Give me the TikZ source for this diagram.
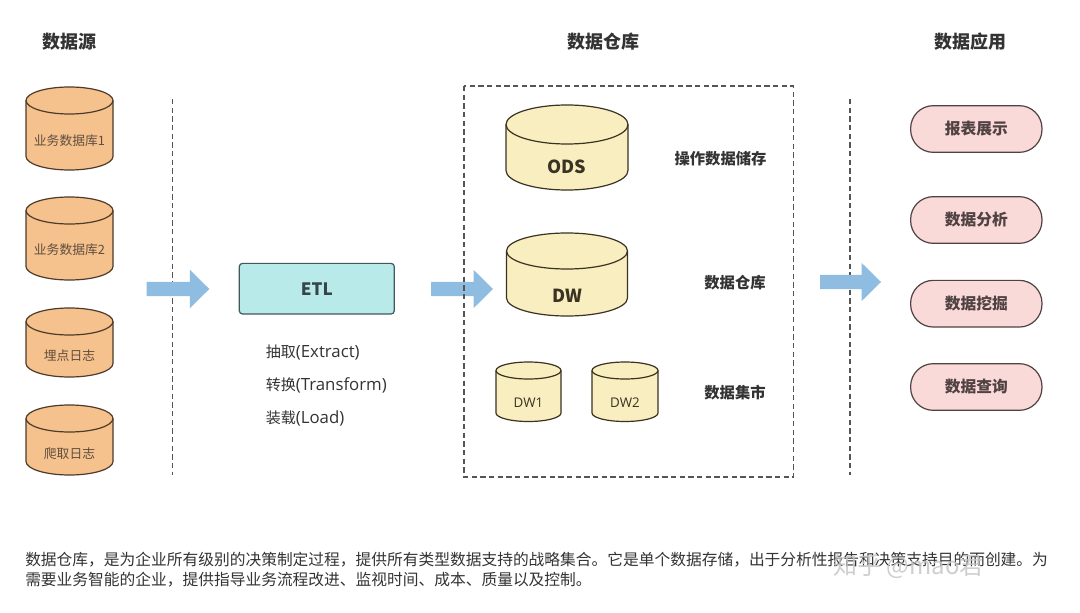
\documentclass[tikz,border=0pt]{standalone}
\usepackage{fontspec}
\setmainfont{Noto Sans CJK SC}
\newfontfamily\latinfont{Open Sans}
\usetikzlibrary{shapes.misc}
\definecolor{peach}{HTML}{F5C18D}
\definecolor{peachline}{HTML}{4D3A2A}
\definecolor{cream}{HTML}{F8EEC0}
\definecolor{creamline}{HTML}{3A3222}
\definecolor{etlfill}{HTML}{B8EAEA}
\definecolor{etlline}{HTML}{44585A}
\definecolor{pinkfill}{HTML}{F9DAD8}
\definecolor{pinkline}{HTML}{504242}
\definecolor{arrowblue}{HTML}{8FBDE2}
\definecolor{txt}{HTML}{333333}
\definecolor{dashc}{HTML}{555555}
% #1 cx, #2 top, #3 bottom, #4 half width, #5 ry, #6 style
\newcommand\dbcyl[6]{%
  \draw[#6] ({#1-#4},{-(#2+#5)}) -- ({#1-#4},{-(#3-#5)})
    arc[start angle=180,end angle=360,x radius=#4,y radius=#5]
    -- ({#1+#4},{-(#2+#5)})
    arc[start angle=0,end angle=180,x radius=#4,y radius=#5] -- cycle;
  \draw[#6,fill=none] ({#1-#4},{-(#2+#5)})
    arc[start angle=180,end angle=360,x radius=#4,y radius=#5];
}
% #1 x start, #2 x tip, #3 y center
\newcommand\blockarrow[3]{%
  \fill[arrowblue] (#1,{-#3+7.2}) -- ({#2-19.5},{-#3+7.2}) -- ({#2-19.5},{-#3+19.2})
    -- (#2,{-#3}) -- ({#2-19.5},{-#3-19.2}) -- ({#2-19.5},{-#3-7.2}) -- (#1,{-#3-7.2}) -- cycle;
}
\newcommand\lat[1]{{\latinfont\fontsize{12.6pt}{13pt}\selectfont #1}}
\begin{document}
\begin{tikzpicture}[x=0.75pt,y=0.75pt,
  title/.style={font=\fontsize{13.5pt}{16pt}\selectfont\bfseries, text=txt},
  srccyl/.style={fill=peach, draw=peachline, line width=0.9pt},
  dwcyl/.style={fill=cream, draw=creamline, line width=0.9pt},
  srclab/.style={font=\fontsize{9.6pt}{11pt}\selectfont, text=peachline!90},
  biglab/.style={font=\fontsize{13.5pt}{16pt}\selectfont\bfseries, text=creamline},
  smalllab/.style={font=\latinfont\fontsize{10pt}{11pt}\selectfont, text=creamline},
  sidelab/.style={font=\fontsize{11.5pt}{14pt}\selectfont\bfseries, text=txt},
  etlbox/.style={fill=etlfill, draw=etlline, line width=0.9pt, rounded corners=2.5pt,
    minimum width=116.3pt, minimum height=38pt, inner sep=0pt,
    font=\fontsize{12.8pt}{15pt}\selectfont\bfseries, text=etlline!80!black},
  etltxt/.style={font=\fontsize{11.3pt}{13pt}\selectfont, text=txt, anchor=west, inner sep=0pt},
  pill/.style={fill=pinkfill, draw=pinkline, line width=0.9pt, rounded corners=17pt,
    minimum width=98.5pt, minimum height=35pt, inner sep=0pt,
    font=\fontsize{11.8pt}{14pt}\selectfont\bfseries, text=pinkline},
  divider/.style={draw=dashc, line width=0.8pt, dash pattern=on 4pt off 2.5pt},
  note/.style={font=\fontsize{11.8pt}{14pt}\selectfont, text=txt, anchor=west, inner sep=0pt}
]
\useasboundingbox[fill=white] (0,0) rectangle (1080,-613);

% titles
\node[title] (t1) at (69.5,-42) {数据源};
\node[title] (t2) at (603,-42) {数据仓库};
\node[title] (t3) at (970,-42) {数据应用};

% source cylinders
\dbcyl{69.5}{87}{170}{43.5}{13.5}{srccyl}
\node[srclab] (s1) at (69.5,-141) {业务数据库1};
\dbcyl{69.5}{197}{280}{43.5}{13.5}{srccyl}
\node[srclab] (s2) at (69.5,-250) {业务数据库2};
\dbcyl{69.5}{308}{377}{43.5}{13.5}{srccyl}
\node[srclab] (s3) at (69.5,-356) {埋点日志};
\dbcyl{69.5}{405}{475}{43.5}{13.5}{srccyl}
\node[srclab] (s4) at (69.5,-454) {爬取日志};

% dividers
\coordinate (d1a) at (172.5,-99);
\coordinate (d1b) at (172.5,-475);
\coordinate (d2a) at (850,-99);
\coordinate (d2b) at (850,-475);
\draw[divider] (d1a) -- (d1b);
\draw[divider] (d2a) -- (d2b);

% arrows
\blockarrow{146.7}{209.3}{289}
\blockarrow{431}{493}{289}
\blockarrow{820}{881}{282}

% ETL
\node[etlbox] (etl) at (316.8,-288.7) {ETL};
\node[etltxt] (e1) at (265.5,-352.7) {抽取\lat{(Extract)}};
\node[etltxt] (e2) at (265.5,-385) {转换\lat{(Transform)}};
\node[etltxt] (e3) at (265.5,-418.3) {装载\lat{(Load)}};

% warehouse box
\draw[divider] (464,-86) rectangle (793.5,-477);

\dbcyl{567}{105}{190}{61}{19.5}{dwcyl}
\node[biglab] (ods) at (567,-167) {ODS};
\node[sidelab] (odsl) at (720.5,-159) {操作数据储存};

\dbcyl{567}{233}{316}{60.5}{18}{dwcyl}
\node[biglab] (dw) at (567,-296) {DW};
\node[sidelab] (dwl) at (735,-283) {数据仓库};

\dbcyl{528.5}{362}{421.5}{32.5}{8.5}{dwcyl}
\node[smalllab] (dw1) at (528.5,-403) {DW1};
\dbcyl{625}{362}{421.5}{33}{8.5}{dwcyl}
\node[smalllab] (dw2) at (625,-403) {DW2};
\node[sidelab] (dml) at (735,-393) {数据集市};

% applications
\node[pill] (a1) at (976.3,-129) {报表展示};
\node[pill] (a2) at (976.3,-220) {数据分析};
\node[pill] (a3) at (976.3,-303.7) {数据挖掘};
\node[pill] (a4) at (976.3,-387) {数据查询};

% bottom note
\node[note] (n1) at (25,-560) {数据仓库，是为企业所有级别的决策制定过程，提供所有类型数据支持的战略集合。它是单个数据存储，出于分析性报告和决策支持目的而创建。为};
\node[note] (n2) at (25,-580) {需要业务智能的企业，提供指导业务流程改进、监视时间、成本、质量以及控制。};

% watermark
\node[font=\fontsize{18pt}{20pt}\selectfont, text=gray!45, text opacity=0.85, anchor=west, inner sep=0pt] (wm) at (833,-566) {知乎 @mao君};
\end{tikzpicture}
\end{document}
